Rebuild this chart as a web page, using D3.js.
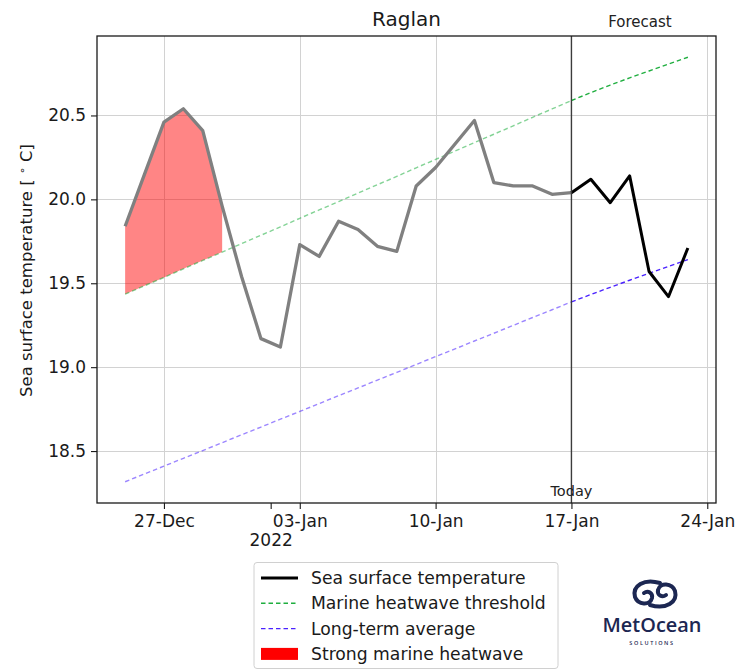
<!DOCTYPE html>
<html>
<head>
<meta charset="utf-8">
<script src="https://cdn.jsdelivr.net/npm/d3@7"></script>
<style>
  html, body { margin: 0; padding: 0; background: #ffffff; }
  svg { display: block; font-family: "DejaVu Sans", sans-serif; }
</style>
</head>
<body>
<svg id="chart" width="735" height="670"></svg>
<script>
// Daily sea surface temperature at Raglan (°C)
const obsDates = [
  "2021-12-25","2021-12-26","2021-12-27","2021-12-28","2021-12-29","2021-12-30","2021-12-31",
  "2022-01-01","2022-01-02","2022-01-03","2022-01-04","2022-01-05","2022-01-06","2022-01-07",
  "2022-01-08","2022-01-09","2022-01-10","2022-01-11","2022-01-12","2022-01-13","2022-01-14",
  "2022-01-15","2022-01-16","2022-01-17"
];
const obsSST = [
  19.84, 20.15, 20.46, 20.54, 20.41, 19.96, 19.54,
  19.17, 19.12, 19.73, 19.66, 19.87, 19.82, 19.72,
  19.69, 20.08, 20.19, 20.33, 20.47, 20.10, 20.08,
  20.08, 20.03, 20.04
];
const forecastDates = ["2022-01-17","2022-01-18","2022-01-19","2022-01-20","2022-01-21","2022-01-22","2022-01-23"];
const forecastSST = [20.04, 20.12, 19.98, 20.14, 19.57, 19.42, 19.71];

// Climatology, one value per day from 25-Dec to 23-Jan
const climDates = [
  "2021-12-25","2021-12-26","2021-12-27","2021-12-28","2021-12-29","2021-12-30","2021-12-31",
  "2022-01-01","2022-01-02","2022-01-03","2022-01-04","2022-01-05","2022-01-06","2022-01-07",
  "2022-01-08","2022-01-09","2022-01-10","2022-01-11","2022-01-12","2022-01-13","2022-01-14",
  "2022-01-15","2022-01-16","2022-01-17","2022-01-18","2022-01-19","2022-01-20","2022-01-21",
  "2022-01-22","2022-01-23"
];
const threshold = [
  19.435, 19.485, 19.535, 19.586, 19.636, 19.686, 19.736,
  19.786, 19.836, 19.887, 19.937, 19.987, 20.037, 20.087,
  20.137, 20.188, 20.238, 20.288, 20.338, 20.388, 20.438,
  20.489, 20.539, 20.589, 20.636, 20.681, 20.724, 20.765,
  20.806, 20.847
];
const longTermAvg = [
  18.317, 18.364, 18.410, 18.457, 18.503, 18.550, 18.597,
  18.643, 18.690, 18.736, 18.783, 18.830, 18.876, 18.923,
  18.969, 19.016, 19.063, 19.109, 19.156, 19.202, 19.249,
  19.296, 19.342, 19.389, 19.433, 19.476, 19.518, 19.559,
  19.600, 19.641
];

const todayDate = "2022-01-17";
const heatwaveEnd = "2021-12-30";
const xTickDates = ["2021-12-27","2022-01-03","2022-01-10","2022-01-17","2022-01-24"];
const yearTickDate = "2022-01-01T12:00";
const yearLabel = "2022";
const yTicks = [18.5, 19.0, 19.5, 20.0, 20.5];

const legendItems = [
  { label: "Sea surface temperature", kind: "line", color: "#000000", dash: null, width: 3 },
  { label: "Marine heatwave threshold", kind: "line", color: "#1fae3f", dash: "4.5,3", width: 1.4 },
  { label: "Long-term average", kind: "line", color: "#4a22ff", dash: "4.5,3", width: 1.4 },
  { label: "Strong marine heatwave", kind: "patch", color: "#ff0000" }
];

const parseDay = d3.timeParse("%Y-%m-%d");
const parseStamp = d3.timeParse("%Y-%m-%dT%H:%M");

const obs = obsDates.map((d, i) => ({ date: parseDay(d), v: obsSST[i] }));
const fc = forecastDates.map((d, i) => ({ date: parseDay(d), v: forecastSST[i] }));
const clim = climDates.map((d, i) => ({ date: parseDay(d), thr: threshold[i], avg: longTermAvg[i] }));
const today = parseDay(todayDate);

const svg = d3.select("#chart");
const plot = { left: 97, right: 716, top: 36, bottom: 503 };

// Axis limits padded by 5% of the data span on each side
const allDates = clim.map(d => d.date);
const dMin = d3.min(allDates), dMax = d3.max(allDates);
const dPad = (dMax - dMin) * 0.05;
const x = d3.scaleTime()
  .domain([new Date(+dMin - dPad), new Date(+dMax + dPad)])
  .range([plot.left, plot.right]);

const allVals = obsSST.concat(forecastSST, threshold, longTermAvg);
const vMin = d3.min(allVals), vMax = d3.max(allVals);
const vPad = (vMax - vMin) * 0.05;
const y = d3.scaleLinear()
  .domain([vMin - vPad, vMax + vPad])
  .range([plot.bottom, plot.top]);

// Grid
const grid = svg.append("g").attr("stroke", "#d2d2d2").attr("stroke-width", 1);
xTickDates.forEach(s => {
  const px = Math.round(x(parseDay(s))) + 0.5;
  grid.append("line").attr("x1", px).attr("x2", px).attr("y1", plot.top).attr("y2", plot.bottom);
});
yTicks.forEach(t => {
  const py = Math.round(y(t)) + 0.5;
  grid.append("line").attr("x1", plot.left).attr("x2", plot.right).attr("y1", py).attr("y2", py);
});

// Strong heatwave fill: days where SST sits above the threshold
const thrByTime = new Map(clim.map(d => [+d.date, d.thr]));
const hw = obs.filter(d => d.v > thrByTime.get(+d.date) && d.date <= parseDay(heatwaveEnd));
svg.append("path")
  .datum(hw)
  .attr("fill", "#ff0000")
  .attr("fill-opacity", 0.48)
  .attr("d", d3.area()
    .x(d => x(d.date))
    .y0(d => y(thrByTime.get(+d.date)))
    .y1(d => y(d.v)));

// Threshold and long-term average: faded before today, solid after
const histClim = clim.filter(d => d.date <= today);
const futClim = clim.filter(d => d.date >= today);
function dashed(data, key, color, opacity) {
  svg.append("path")
    .datum(data)
    .attr("fill", "none")
    .attr("stroke", color)
    .attr("stroke-opacity", opacity)
    .attr("stroke-width", 1.4)
    .attr("stroke-dasharray", "4.5,3")
    .attr("d", d3.line().x(d => x(d.date)).y(d => y(d[key])));
}
dashed(histClim, "thr", "#1fae3f", 0.55);
dashed(futClim, "thr", "#1fae3f", 1);
dashed(histClim, "avg", "#4a22ff", 0.55);
dashed(futClim, "avg", "#4a22ff", 1);

// SST lines
const sstLine = d3.line().x(d => x(d.date)).y(d => y(d.v));
svg.append("path").datum(obs)
  .attr("fill", "none").attr("stroke", "#808080").attr("stroke-width", 3.3)
  .attr("stroke-linejoin", "round").attr("d", sstLine);
svg.append("path").datum(fc)
  .attr("fill", "none").attr("stroke", "#000000").attr("stroke-width", 3)
  .attr("stroke-linejoin", "round").attr("d", sstLine);

// Today marker
const tx = x(today);
svg.append("line")
  .attr("x1", tx).attr("x2", tx).attr("y1", plot.top).attr("y2", plot.bottom)
  .attr("stroke", "#3c3c3c").attr("stroke-width", 1.4);
svg.append("text").attr("x", tx).attr("y", 496).attr("text-anchor", "middle")
  .attr("font-size", 14.5).attr("fill", "#222").text("Today");
svg.append("text").attr("x", 640).attr("y", 27).attr("text-anchor", "middle")
  .attr("font-size", 15).attr("fill", "#222").text("Forecast");

// Frame
svg.append("rect")
  .attr("x", plot.left).attr("y", plot.top)
  .attr("width", plot.right - plot.left).attr("height", plot.bottom - plot.top)
  .attr("fill", "none").attr("stroke", "#1a1a1a").attr("stroke-width", 1.3);

// Axes
const xAxis = d3.axisBottom(x)
  .tickValues(xTickDates.map(parseDay))
  .tickFormat(d3.timeFormat("%d-%b"))
  .tickSize(6).tickPadding(6);
const gx = svg.append("g").attr("transform", `translate(0,${plot.bottom})`).call(xAxis);
gx.select(".domain").remove();
gx.selectAll("text").attr("font-size", 17).attr("font-family", "DejaVu Sans").attr("fill", "#1a1a1a");
gx.selectAll("line").attr("stroke", "#1a1a1a").attr("stroke-width", 1.1);

const yearAxis = d3.axisBottom(x)
  .tickValues([parseStamp(yearTickDate)])
  .tickFormat(() => yearLabel)
  .tickSize(6).tickPadding(25);
const gyr = svg.append("g").attr("transform", `translate(0,${plot.bottom})`).call(yearAxis);
gyr.select(".domain").remove();
gyr.selectAll("text").attr("font-size", 17).attr("font-family", "DejaVu Sans").attr("fill", "#1a1a1a");
gyr.selectAll("line").attr("stroke", "#1a1a1a").attr("stroke-width", 1.1);

const yAxis = d3.axisLeft(y)
  .tickValues(yTicks)
  .tickFormat(d3.format(".1f"))
  .tickSize(6).tickPadding(5);
const gy = svg.append("g").attr("transform", `translate(${plot.left},0)`).call(yAxis);
gy.select(".domain").remove();
gy.selectAll("text").attr("font-size", 17).attr("font-family", "DejaVu Sans").attr("fill", "#1a1a1a");
gy.selectAll("line").attr("stroke", "#1a1a1a").attr("stroke-width", 1.1);

// Y label
const yl = svg.append("text")
  .attr("transform", `translate(32,${(plot.top + plot.bottom) / 2 + 1}) rotate(-90)`)
  .attr("text-anchor", "middle").attr("font-size", 16.5).attr("fill", "#1a1a1a");
yl.append("tspan").text("Sea surface temperature [ ");
yl.append("tspan").attr("font-size", 11).attr("dy", -6).text("∘");
yl.append("tspan").attr("dy", 6).text(" C]");

// Title
svg.append("text").attr("x", (plot.left + plot.right) / 2).attr("y", 26)
  .attr("text-anchor", "middle").attr("font-size", 20).attr("fill", "#1a1a1a").text("Raglan");

// Legend
const lg = svg.append("g");
lg.append("rect").attr("x", 254).attr("y", 562.5).attr("width", 304).attr("height", 106)
  .attr("rx", 3).attr("fill", "#fff").attr("stroke", "#d0d0d0").attr("stroke-width", 1);
legendItems.forEach((it, i) => {
  const cy = 578 + i * 25.3;
  if (it.kind === "line") {
    const l = lg.append("line").attr("x1", 261).attr("x2", 298).attr("y1", cy).attr("y2", cy)
      .attr("stroke", it.color).attr("stroke-width", it.width);
    if (it.dash) l.attr("stroke-dasharray", it.dash);
  } else {
    lg.append("rect").attr("x", 261).attr("y", cy - 6).attr("width", 37).attr("height", 12)
      .attr("fill", it.color);
  }
  lg.append("text").attr("x", 311).attr("y", cy + 6).attr("font-size", 17.2)
    .attr("fill", "#1a1a1a").text(it.label);
});

// MetOcean Solutions logo
const logo = svg.append("g").attr("fill", "none").attr("stroke", "#1c2752").attr("stroke-width", 4)
  .attr("stroke-linecap", "round");
const hook = "M660,583 C644,578 632,586 635,597 C638,605 650,606 652,598 C653,593 648,590 644,593";
logo.append("path").attr("d", hook);
logo.append("path").attr("d", hook).attr("transform", "rotate(180,655,594)");
svg.append("text").attr("x", 652).attr("y", 632).attr("text-anchor", "middle")
  .attr("font-family", "Open Sans").attr("font-weight", 600).attr("font-size", 20)
  .attr("textLength", 99).attr("lengthAdjust", "spacingAndGlyphs")
  .attr("fill", "#1c2752").text("MetOcean");
svg.append("text").attr("x", 652).attr("y", 645).attr("text-anchor", "middle")
  .attr("font-family", "Open Sans").attr("font-weight", 600).attr("font-size", 5.5)
  .attr("letter-spacing", 1.6).attr("fill", "#1c2752").text("SOLUTIONS");
</script>
</body>
</html>
